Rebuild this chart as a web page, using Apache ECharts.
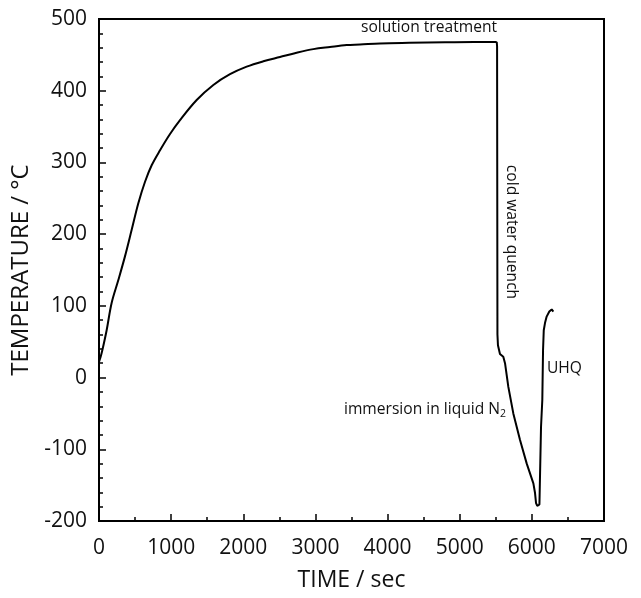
<!DOCTYPE html>
<html>
<head>
<meta charset="utf-8">
<script src="https://cdn.jsdelivr.net/npm/echarts@6/dist/echarts.min.js"></script>
<style>
html,body{margin:0;padding:0;background:#fff;}
#chart{width:641px;height:598px;}
</style>
</head>
<body>
<div id="chart"></div>
<script>
const times = [0, 20, 46, 106, 175, 268, 360, 453, 545, 638, 730, 846, 980, 1123, 1354, 1585, 1816, 2047, 2278, 2509, 2740, 2971, 3202, 3433, 3618, 3895, 4300, 4800, 5200, 5513, 5518, 5520, 5523, 5530, 5558, 5604, 5628, 5674, 5743, 5836, 5929, 6021, 6044, 6058, 6075, 6090, 6105, 6113, 6127, 6145, 6155, 6165, 6182, 6205, 6242, 6275, 6298];
const temps = [22, 28, 38, 66, 104, 136, 169, 206, 243, 273, 296, 317, 339, 359, 387, 408, 423, 433.5, 441, 447, 453, 458, 461, 463.7, 464.5, 466, 466.8, 467.5, 468, 468, 462, 300, 60, 45, 33, 29, 20, -13, -50, -87, -120, -147.5, -161, -175, -179, -179, -177, -175, -69, -31, 38, 66, 76, 85, 92, 95, 92];
const xTicks = [0, 1000, 2000, 3000, 4000, 5000, 6000, 7000];
const yTicks = [-200, -100, 0, 100, 200, 300, 400, 500];
const annotations = ['solution treatment', 'cold water quench', 'immersion in liquid N₂', 'UHQ'];

const font = '"Open Sans", sans-serif';
const chart = echarts.init(document.getElementById('chart'));
const data = times.map((t, i) => [t, temps[i]]);
const splitIdx = times.indexOf(5513);
const heating = data.slice(0, splitIdx + 1);
const quench = data.slice(splitIdx);
const ann = '15.6px ' + font;
chart.setOption({
  backgroundColor: '#fff',
  animation: false,
  grid: {left: 99, right: 37, top: 19, bottom: 77, show: true, borderColor: '#000', borderWidth: 2},
  xAxis: {
    type: 'value', min: xTicks[0], max: xTicks[xTicks.length - 1], interval: 1000,
    name: 'TIME / sec', nameLocation: 'middle', nameGap: 48,
    nameTextStyle: {fontFamily: font, fontSize: 23, color: '#111'},
    axisLine: {show: true, onZero: false, lineStyle: {color: '#000', width: 2}},
    axisTick: {show: true, inside: true, length: 7, lineStyle: {color: '#000', width: 1.5}},
    minorTick: {show: true, splitNumber: 2, length: 4, lineStyle: {color: '#000', width: 1.5}},
    axisLabel: {fontFamily: font, fontSize: 21, color: '#111', margin: 17, formatter: v => String(v)},
    splitLine: {show: false}
  },
  yAxis: {
    type: 'value', min: yTicks[0], max: yTicks[yTicks.length - 1], interval: 100,
    name: 'TEMPERATURE / °C', nameLocation: 'middle', nameGap: 64, nameRotate: 90,
    nameTextStyle: {fontFamily: font, fontSize: 24, color: '#111'},
    axisLine: {show: true, onZero: false, lineStyle: {color: '#000', width: 2}},
    axisTick: {show: true, inside: true, length: 7, lineStyle: {color: '#000', width: 1.5}},
    minorTick: {show: true, splitNumber: 5, length: 4, lineStyle: {color: '#000', width: 1.5}},
    axisLabel: {fontFamily: font, fontSize: 21, color: '#111', margin: 12, formatter: v => String(v)},
    splitLine: {show: false}
  },
  series: [{
    type: 'line', data: heating, showSymbol: false, smooth: 0.35,
    lineStyle: {color: '#000', width: 2}
  }, {
    type: 'line', data: quench, showSymbol: false, smooth: false,
    lineStyle: {color: '#000', width: 2}
  }],
  graphic: [
    {type: 'text', left: 361, top: 20, style: {text: annotations[0], font: ann, fill: '#111'}},
    {type: 'text', x: 511, y: 232, rotation: -Math.PI / 2, style: {text: annotations[1], font: ann, fill: '#111', align: 'center', verticalAlign: 'middle'}},
    {type: 'text', left: 344, top: 402, style: {rich: {a: {font: ann, fill: '#111'}, s: {font: '10.5px ' + font, fill: '#111', padding: [9, 0, 0, 0]}}, text: '{a|immersion in liquid N}{s|2}'}},
    {type: 'text', left: 547, top: 361, style: {text: annotations[3], font: ann, fill: '#111'}}
  ]
});
</script>
</body>
</html>
